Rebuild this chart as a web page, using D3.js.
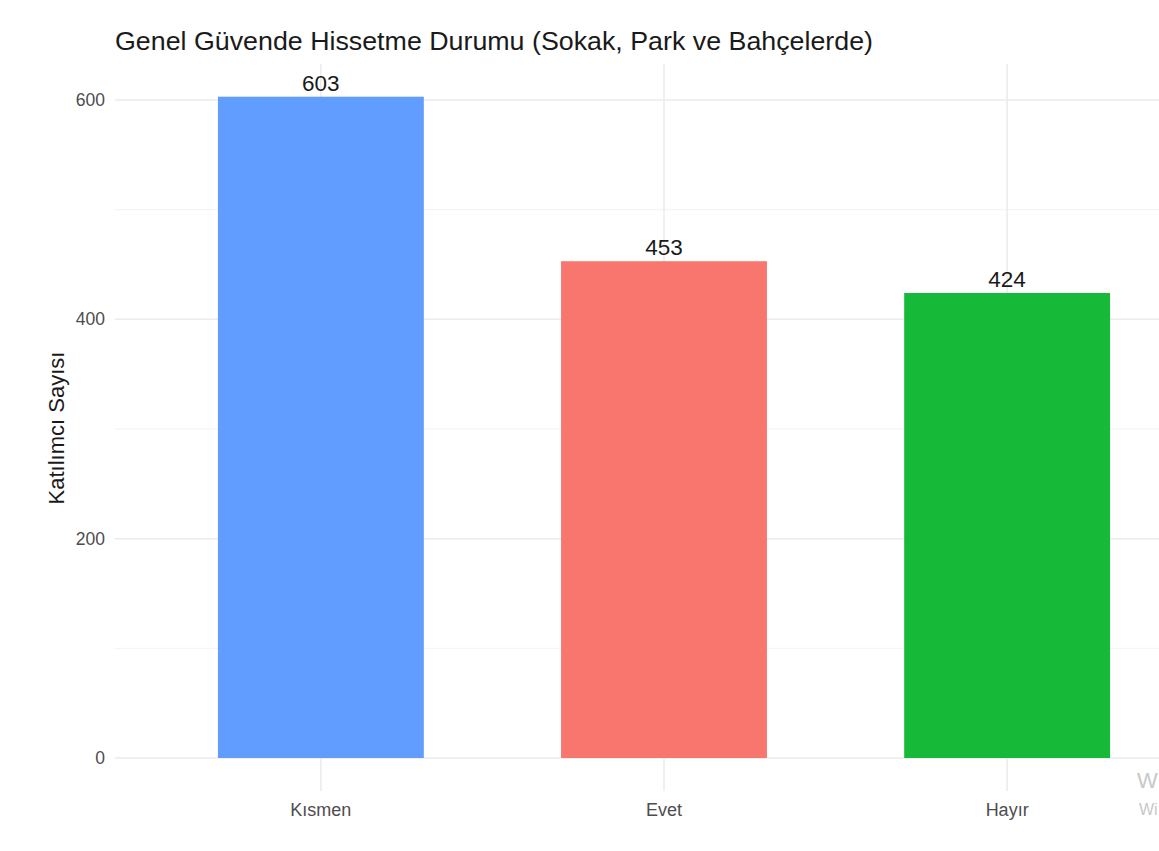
<!DOCTYPE html>
<html><head><meta charset="utf-8">
<script src="https://cdn.jsdelivr.net/npm/d3@7"></script>
<style>body{margin:0;background:#fff;} svg{display:block;font-family:"Liberation Sans",Arial,sans-serif;}</style>
</head><body>
<script>
const categories = ["Kısmen", "Evet", "Hayır"];
const values = [603, 453, 424];
const colors = ["#619CFF", "#F8766D", "#17BA38"];
const majorTicks = [0, 200, 400, 600];
const minorTicks = [100, 300, 500];
const title = "Genel Güvende Hissetme Durumu (Sokak, Park ve Bahçelerde)";
const yLabel = "Katılımcı Sayısı";

const W = 1159, H = 851;
const panel = {left: 115, right: 1213, top: 64, bottom: 791};
const svg = d3.select("body").append("svg").attr("width", W).attr("height", H);

const x = d3.scaleBand().domain(categories).range([panel.left, panel.right]).paddingInner(0.4).paddingOuter(0.3);
const y = d3.scaleLinear().domain([0, 600]).range([758, 100]);

const g = svg.append("g");
// minor grid
g.selectAll(".minor").data(minorTicks).join("line")
  .attr("x1", panel.left).attr("x2", panel.right)
  .attr("y1", d => y(d)).attr("y2", d => y(d))
  .attr("stroke", "#f2f2f2").attr("stroke-width", 1);
// major grid
g.selectAll(".major").data(majorTicks).join("line")
  .attr("x1", panel.left).attr("x2", panel.right)
  .attr("y1", d => y(d)).attr("y2", d => y(d))
  .attr("stroke", "#ebebeb").attr("stroke-width", 1.5);
// vertical grid
g.selectAll(".vgrid").data(categories).join("line")
  .attr("x1", d => x(d) + x.bandwidth()/2).attr("x2", d => x(d) + x.bandwidth()/2)
  .attr("y1", panel.top).attr("y2", panel.bottom)
  .attr("stroke", "#ebebeb").attr("stroke-width", 1.5);

// bars
g.selectAll(".bar").data(categories).join("rect")
  .attr("x", d => x(d)).attr("width", x.bandwidth())
  .attr("y", (d, i) => y(values[i])).attr("height", (d, i) => y(0) - y(values[i]))
  .attr("fill", (d, i) => colors[i]);

// value labels
g.selectAll(".vl").data(categories).join("text")
  .attr("x", d => x(d) + x.bandwidth()/2).attr("y", (d, i) => y(values[i]) - 6)
  .attr("text-anchor", "middle").attr("font-size", 22.5).attr("fill", "#1a1a1a")
  .text((d, i) => values[i]);

// y axis ticks labels
const yAxis = d3.axisLeft(y).tickValues(majorTicks).tickSize(0).tickPadding(10);
const ya = svg.append("g").attr("transform", `translate(${panel.left},0)`).call(yAxis);
ya.select(".domain").remove();
ya.selectAll("text").attr("font-size", 17.5).attr("fill", "#4d4d4d").attr("font-family", "Liberation Sans, Arial, sans-serif");

// x axis labels
const xAxis = d3.axisBottom(x).tickSize(0).tickPadding(12);
const xa = svg.append("g").attr("transform", `translate(0,${panel.bottom})`).call(xAxis);
xa.select(".domain").remove();
xa.selectAll("text").attr("font-size", 18).attr("fill", "#4d4d4d").attr("font-family", "Liberation Sans, Arial, sans-serif");

// title
svg.append("text").attr("x", 115).attr("y", 50).attr("font-size", 26).attr("fill", "#1a1a1a")
  .attr("textLength", 758).attr("lengthAdjust", "spacingAndGlyphs").text(title);
// y label
svg.append("text").attr("transform", "translate(64,428) rotate(-90)").attr("text-anchor", "middle")
  .attr("font-size", 22).attr("fill", "#1a1a1a").text(yLabel);

// watermark (partially visible)
svg.append("text").attr("x", 1137).attr("y", 788).attr("font-size", 22).attr("fill", "#c8c8c8").text("W");
svg.append("text").attr("x", 1139).attr("y", 815).attr("font-size", 16).attr("fill", "#c8c8c8").text("Wi");
</script>
</body></html>
